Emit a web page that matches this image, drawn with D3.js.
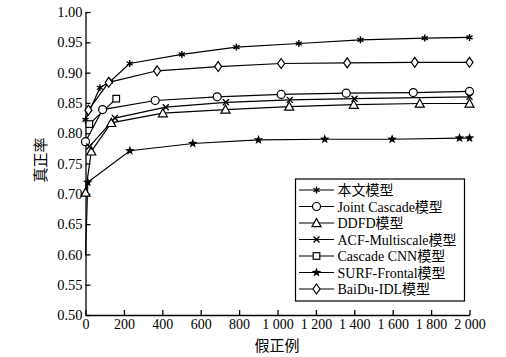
<!DOCTYPE html>
<html><head><meta charset="utf-8">
<script src="https://cdn.jsdelivr.net/npm/d3@7"></script>
<style>
html,body{margin:0;padding:0;background:#fff;}
svg text{fill:#000;}
</style></head>
<body>
<svg id="c" width="506" height="357"></svg>
<script>
const seriesNames = ["本文模型","Joint Cascade模型","DDFD模型","ACF-Multiscale模型","Cascade CNN模型","SURF-Frontal模型","BaiDu-IDL模型"];
const markerTypes = ["asterisk","circle","triangle","cross","square","star","diamond"];
const oursX = [0, 75, 127, 230, 502, 786, 1111, 1432, 1767, 2000];
const oursY = [0.822, 0.875, 0.885, 0.915, 0.930, 0.942, 0.948, 0.954, 0.957, 0.958];
const jointX = [0, 89, 363, 686, 1019, 1358, 1707, 2000];
const jointY = [0.786, 0.839, 0.854, 0.860, 0.864, 0.866, 0.867, 0.869];
const ddfdX = [0, 30, 134, 403, 729, 1061, 1397, 1741, 2000];
const ddfdY = [0.702, 0.770, 0.817, 0.833, 0.839, 0.844, 0.847, 0.849, 0.849];
const acfX = [20, 153, 418, 731, 1064, 1401, 2000];
const acfY = [0.778, 0.825, 0.843, 0.851, 0.855, 0.857, 0.860];
const cnnX = [20, 160];
const cnnY = [0.815, 0.857];
const surfX = [0, 12, 231, 559, 901, 1246, 1597, 1948, 2000];
const surfY = [0.600, 0.719, 0.771, 0.783, 0.789, 0.790, 0.790, 0.792, 0.792];
const baiduX = [15, 121, 373, 691, 1019, 1363, 1715, 2000];
const baiduY = [0.838, 0.884, 0.903, 0.910, 0.915, 0.916, 0.917, 0.917];
const xTicks = [0,200,400,600,800,1000,1200,1400,1600,1800,2000];
const yTicks = [0.50,0.55,0.60,0.65,0.70,0.75,0.80,0.85,0.90,0.95,1.00];
const xTitle = "假正例", yTitle = "真正率";

const serifFont = '"Liberation Serif","Noto Sans CJK SC",serif';
const cjkFont = '"Noto Sans CJK SC",sans-serif';

const allX = [oursX, jointX, ddfdX, acfX, cnnX, surfX, baiduX];
const allY = [oursY, jointY, ddfdY, acfY, cnnY, surfY, baiduY];
const series = seriesNames.map((n,i)=>({name:n, marker:markerTypes[i],
  pts: allX[i].map((x,j)=>({x, y: allY[i][j]}))}));

const svg = d3.select("#c");
const x = d3.scaleLinear().domain([0,2000]).range([85.5,469.5]);
const y = d3.scaleLinear().domain([0.5,1]).range([315,12]);

const xAxis = d3.axisBottom(x).tickValues(xTicks).tickSizeInner(-5).tickSizeOuter(0).tickPadding(4)
  .tickFormat(d => d >= 1000 ? (Math.floor(d/1000) + " " + String(d%1000).padStart(3,"0")) : String(d));
const yAxis = d3.axisLeft(y).tickValues(yTicks).tickSizeInner(-5).tickSizeOuter(0).tickPadding(3)
  .tickFormat(d3.format(".2f"));

const gx = svg.append("g").attr("transform","translate(0,315)").call(xAxis);
const gy = svg.append("g").attr("transform","translate(85.5,0)").call(yAxis);
[gx,gy].forEach(g=>{
  g.selectAll("path,line").attr("stroke","#000").attr("stroke-width",1.3);
  g.selectAll("text").style("font-family",serifFont).attr("fill","#000");
});
gx.selectAll("text").style("font-size","14px");
gy.selectAll("text").style("font-size","14.5px");

svg.append("text").attr("x",277).attr("y",351).attr("text-anchor","middle")
  .style("font-size","15px").style("font-family",cjkFont).attr("fill","#000").text(xTitle);
svg.append("text").attr("transform","translate(46,160) rotate(-90)").attr("text-anchor","middle")
  .style("font-size","15px").style("font-family",cjkFont).attr("fill","#000").text(yTitle);

function drawMarker(g, type, cx, cy){
  const sw = 1.2;
  if(type==="asterisk"){
    const r=3.5;
    for(let k=0;k<3;k++){
      const a = Math.PI/2 + k*Math.PI/3;
      g.append("line").attr("x1",cx-r*Math.cos(a)).attr("y1",cy-r*Math.sin(a))
        .attr("x2",cx+r*Math.cos(a)).attr("y2",cy+r*Math.sin(a)).attr("stroke","#000").attr("stroke-width",1.4);
    }
    g.append("circle").attr("cx",cx).attr("cy",cy).attr("r",1.5).attr("fill","#000");
  } else if(type==="circle"){
    g.append("circle").attr("cx",cx).attr("cy",cy).attr("r",4).attr("fill","#fff").attr("stroke","#000").attr("stroke-width",sw);
  } else if(type==="triangle"){
    const s=4.5;
    g.append("path").attr("d",`M${cx},${cy-s}L${cx+s},${cy+s*0.8}L${cx-s},${cy+s*0.8}Z`)
      .attr("fill","#fff").attr("stroke","#000").attr("stroke-width",sw);
  } else if(type==="cross"){
    const s=3;
    g.append("path").attr("d",`M${cx-s},${cy-s}L${cx+s},${cy+s}M${cx+s},${cy-s}L${cx-s},${cy+s}`)
      .attr("stroke","#000").attr("stroke-width",1.4);
  } else if(type==="square"){
    const s=3.3;
    g.append("rect").attr("x",cx-s).attr("y",cy-s).attr("width",2*s).attr("height",2*s)
      .attr("fill","#fff").attr("stroke","#000").attr("stroke-width",sw);
  } else if(type==="star"){
    const R=5, r=2.1; let d="";
    for(let k=0;k<10;k++){
      const rr = k%2===0?R:r; const a = -Math.PI/2 + k*Math.PI/5;
      d += (k===0?"M":"L") + (cx+rr*Math.cos(a)) + "," + (cy+rr*Math.sin(a));
    }
    g.append("path").attr("d",d+"Z").attr("fill","#000");
  } else if(type==="diamond"){
    g.append("path").attr("d",`M${cx},${cy-5}L${cx+3.5},${cy}L${cx},${cy+5}L${cx-3.5},${cy}Z`)
      .attr("fill","#fff").attr("stroke","#000").attr("stroke-width",sw);
  }
}

const line = d3.line().x(d=>x(d.x)).y(d=>y(d.y));
const plot = svg.append("g");
series.forEach(s=>{
  plot.append("path").datum(s.pts).attr("d",line).attr("fill","none").attr("stroke","#000").attr("stroke-width",1.2);
});
series.forEach(s=>{
  const g = plot.append("g");
  s.pts.forEach((p,i)=>{
    if(s.marker==="star" && p.y < 0.65) return; // curve start drawn without a marker
    drawMarker(g, s.marker, x(p.x), y(p.y));
  });
});

// legend
const lg = svg.append("g");
lg.append("rect").attr("x",295.5).attr("y",179).attr("width",169).attr("height",122)
  .attr("fill","#fff").attr("stroke","#000").attr("stroke-width",1.2);
series.forEach((s,i)=>{
  const cy = 190 + i*16.5;
  lg.append("line").attr("x1",299).attr("x2",334).attr("y1",cy).attr("y2",cy).attr("stroke","#000").attr("stroke-width",1.2);
  drawMarker(lg, s.marker, 316.5, cy);
  lg.append("text").attr("x",337.5).attr("y",cy+5).style("font-size","14px")
    .style("font-family",serifFont).attr("fill","#000").text(s.name);
});
</script>
</body></html>
